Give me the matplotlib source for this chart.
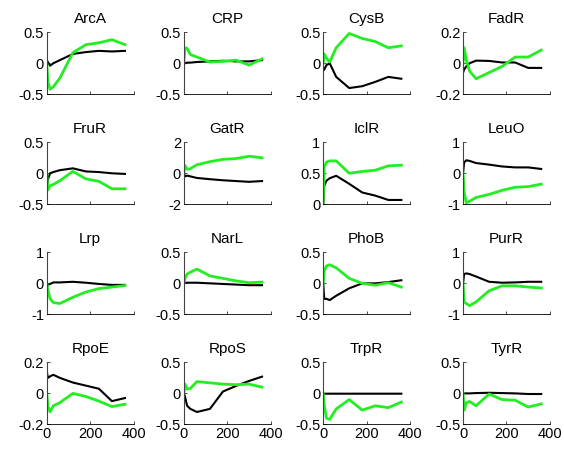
import matplotlib
matplotlib.use('Agg')
import matplotlib.pyplot as plt

plt.rcParams['font.family'] = ['Liberation Sans', 'DejaVu Sans']

# sampling times (min)
t = [0, 5, 15, 30, 60, 120, 180, 240, 300, 360]

names = ['ArcA', 'CRP', 'CysB', 'FadR',
         'FruR', 'GatR', 'IclR', 'LeuO',
         'Lrp', 'NarL', 'PhoB', 'PurR',
         'RpoE', 'RpoS', 'TrpR', 'TyrR']

# y-axis limits per panel
ylims = [(-0.5, 0.5), (-0.5, 0.5), (-0.5, 0.5), (-0.2, 0.2),
         (-0.5, 0.5), (-2, 2), (0, 1), (-1, 1),
         (-1, 1), (-0.5, 0.5), (-0.5, 0.5), (-1, 1),
         (-0.2, 0.2), (-0.5, 0.5), (-0.5, 0.5), (-0.5, 0.5)]

# black curves
black = [
    [0.04, 0.02, -0.04, 0.0, 0.05, 0.15, 0.18, 0.2, 0.19, 0.2],          # ArcA
    [-0.01, 0.0, 0.01, 0.01, 0.02, 0.03, 0.04, 0.03, 0.03, 0.05],        # CRP
    [-0.12, -0.1, -0.03, 0.0, -0.22, -0.4, -0.37, -0.3, -0.22, -0.25],   # CysB
    [-0.06, -0.04, -0.02, 0.0, 0.017, 0.015, 0.005, 0.005, -0.03, -0.03],  # FadR
    [-0.25, -0.1, 0.0, 0.02, 0.05, 0.08, 0.03, 0.02, 0.0, -0.01],        # FruR
    [0.0, -0.2, -0.15, -0.2, -0.3, -0.38, -0.45, -0.5, -0.55, -0.5],     # GatR
    [0.0, 0.3, 0.38, 0.42, 0.46, 0.33, 0.19, 0.14, 0.07, 0.07],          # IclR
    [0.0, 0.35, 0.42, 0.4, 0.33, 0.28, 0.22, 0.19, 0.19, 0.14],          # LeuO
    [0.0, -0.05, -0.02, 0.03, 0.03, 0.05, 0.02, -0.02, -0.05, -0.05],    # Lrp
    [0.0, 0.01, 0.01, 0.01, 0.01, 0.0, -0.01, -0.02, -0.03, -0.03],      # NarL
    [0.0, -0.25, -0.25, -0.27, -0.2, -0.08, 0.0, 0.0, 0.02, 0.05],       # PhoB
    [0.0, 0.3, 0.32, 0.3, 0.22, 0.05, 0.02, 0.03, 0.05, 0.05],           # PurR
    [0.14, 0.1, 0.11, 0.12, 0.1, 0.07, 0.05, 0.03, -0.05, -0.03],        # RpoE
    [0.0, -0.05, -0.2, -0.25, -0.3, -0.25, 0.03, 0.12, 0.2, 0.27],       # RpoS
    [0.0, -0.005, -0.005, -0.005, -0.005, -0.005, -0.005, -0.005, -0.005, -0.005],  # TrpR
    [0.0, 0.0, 0.0, 0.0, 0.005, 0.01, 0.005, 0.0, -0.01, -0.01],         # TyrR
]

# green curves
green = [
    [0.0, -0.3, -0.42, -0.38, -0.24, 0.17, 0.3, 0.33, 0.38, 0.3],        # ArcA
    [0.0, 0.25, 0.24, 0.14, 0.1, 0.02, 0.03, 0.05, -0.03, 0.07],         # CRP
    [0.0, 0.15, 0.08, 0.02, 0.25, 0.48, 0.4, 0.35, 0.25, 0.28],          # CysB
    [0.0, 0.1, 0.02, -0.05, -0.1, -0.06, -0.02, 0.04, 0.04, 0.085],      # FadR
    [0.0, -0.27, -0.2, -0.18, -0.12, 0.03, -0.09, -0.13, -0.25, -0.25],  # FruR
    [0.0, 0.5, 0.26, 0.3, 0.55, 0.75, 0.9, 0.95, 1.1, 1.0],              # GatR
    [0.0, 0.6, 0.68, 0.7, 0.7, 0.5, 0.53, 0.55, 0.62, 0.63],             # IclR
    [0.0, -0.6, -0.95, -0.9, -0.78, -0.68, -0.55, -0.45, -0.43, -0.35],  # LeuO
    [0.0, -0.2, -0.5, -0.62, -0.65, -0.45, -0.28, -0.17, -0.12, -0.07],  # Lrp
    [0.0, 0.08, 0.15, 0.18, 0.23, 0.12, 0.08, 0.04, 0.01, 0.02],         # NarL
    [0.0, 0.2, 0.28, 0.3, 0.25, 0.08, 0.0, -0.03, 0.01, -0.06],          # PhoB
    [0.0, -0.6, -0.65, -0.72, -0.6, -0.24, -0.08, -0.08, -0.12, -0.15],  # PurR
    [0.0, -0.08, -0.12, -0.08, -0.06, 0.0, -0.02, -0.05, -0.085, -0.07], # RpoE
    [0.0, 0.15, 0.07, 0.08, 0.19, 0.17, 0.15, 0.14, 0.15, 0.1],          # RpoS
    [0.0, -0.2, -0.4, -0.42, -0.25, -0.1, -0.27, -0.2, -0.23, -0.14],    # TrpR
    [0.0, -0.27, -0.15, -0.13, -0.2, -0.01, -0.1, -0.11, -0.22, -0.17],  # TyrR
]

fig = plt.figure(figsize=(5.64, 4.51), dpi=100)

lefts = [0.083, 0.326, 0.573, 0.821]
bottoms = [0.791, 0.547, 0.303, 0.059]
w, h = 0.154, 0.1375

for i, name in enumerate(names):
    r, c = divmod(i, 4)
    ax = fig.add_axes([lefts[c], bottoms[r], w, h])
    ax.plot(t, black[i], color='black', lw=1.5)
    ax.plot(t, green[i], color='#22ee22', lw=2)
    lo, hi = ylims[i]
    ax.set_xlim(0, 400)
    ax.set_ylim(lo, hi)
    ax.set_yticks([lo, (lo + hi) / 2, hi])
    ax.set_yticklabels(['%g' % v for v in [lo, (lo + hi) / 2, hi]])
    ax.set_xticks([0, 200, 400])
    if r < 3:
        ax.set_xticklabels([])
    ax.tick_params(direction='in', length=2, width=0.5, labelsize=10.5, pad=2)
    ax.spines['top'].set_visible(False)
    ax.spines['right'].set_visible(False)
    ax.spines['left'].set_linewidth(0.8)
    ax.spines['left'].set_color('#444444')
    ax.spines['bottom'].set_linewidth(0.6)
    ax.set_title(name, fontsize=11, pad=7)

fig.savefig('out.png', dpi=100)
